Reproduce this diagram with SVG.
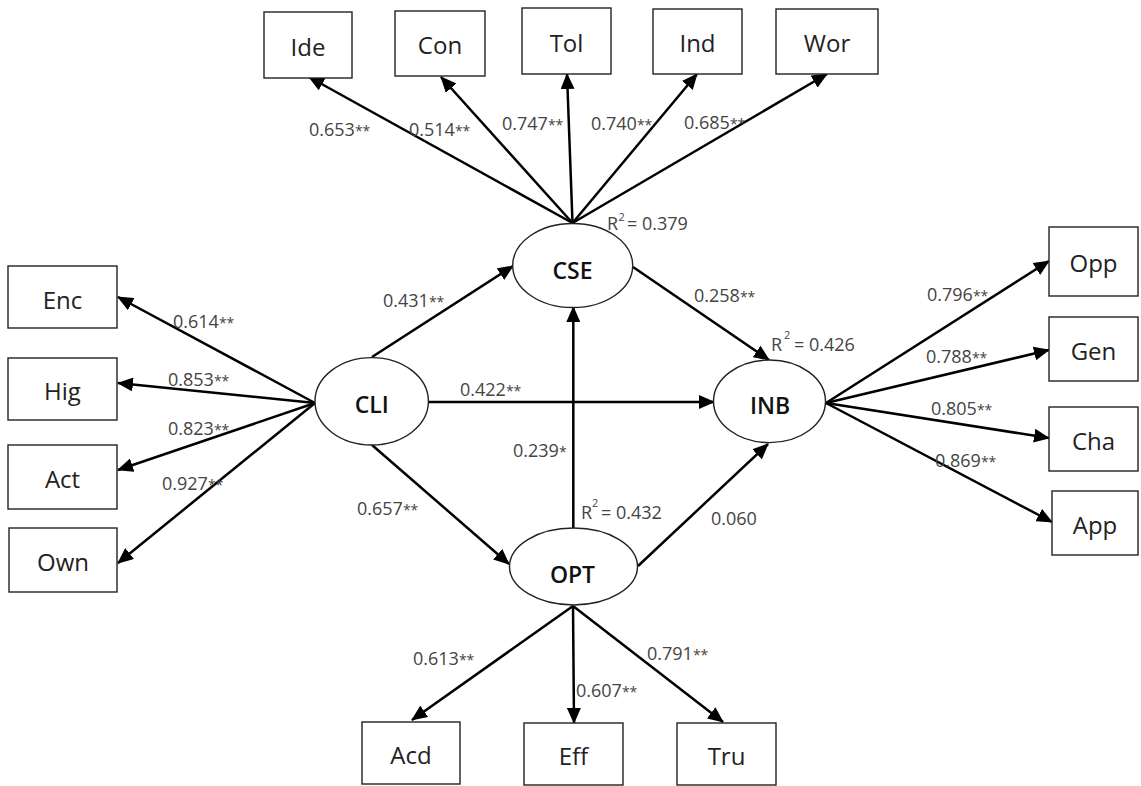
<svg xmlns="http://www.w3.org/2000/svg" width="1141" height="786" viewBox="0 0 1141 786">
  <style>
    .box { fill: #ffffff; stroke: #222222; stroke-width: 1.4; }
    .lat { fill: #ffffff; stroke: #222222; stroke-width: 1.4; }
    .bl { font-family: "Open Sans", "Liberation Sans", sans-serif; font-size: 24px; fill: #222222; text-anchor: middle; }
    .ll { font-family: "Open Sans", "Liberation Sans", sans-serif; font-size: 23px; font-weight: 600; fill: #111111; text-anchor: middle; }
    .num { font-family: "Open Sans", "Liberation Sans", sans-serif; font-size: 18px; fill: #444444; }
    .st { font-size: 14px; }
    .sup { font-size: 11px; }
    .path { stroke: #000000; stroke-width: 2.5; fill: none; marker-end: url(#head); }
  </style>
  <defs>
    <marker id="head" markerUnits="userSpaceOnUse" markerWidth="16" markerHeight="14" refX="15" refY="7" orient="auto">
      <path d="M0,0 L16,7 L0,14 z" fill="#000000"/>
    </marker>
  </defs>

  <rect width="1141" height="786" fill="#ffffff"/>

  <!-- paths and loadings -->
  <g id="connectors">
    <!-- CSE indicators -->
    <line class="path" x1="572.5" y1="223" x2="309" y2="77"/>
    <line class="path" x1="572.5" y1="223" x2="441" y2="77"/>
    <line class="path" x1="572.5" y1="223" x2="567" y2="74"/>
    <line class="path" x1="572.5" y1="223" x2="697" y2="74"/>
    <line class="path" x1="572.5" y1="223" x2="827" y2="74"/>
    <!-- CLI indicators -->
    <line class="path" x1="315" y1="403" x2="118" y2="297"/>
    <line class="path" x1="315" y1="403" x2="118" y2="383"/>
    <line class="path" x1="315" y1="403" x2="118" y2="470"/>
    <line class="path" x1="315" y1="403" x2="118" y2="563"/>
    <!-- structural paths -->
    <line class="path" x1="372" y1="357" x2="513" y2="266"/>
    <line class="path" x1="428" y1="402" x2="714" y2="402"/>
    <line class="path" x1="633" y1="267" x2="769" y2="360"/>
    <line class="path" x1="372" y1="445" x2="509" y2="564"/>
    <line class="path" x1="573.3" y1="528" x2="573.3" y2="307"/>
    <line class="path" x1="638" y1="566" x2="768" y2="444"/>
    <!-- INB indicators -->
    <line class="path" x1="826" y1="403" x2="1049" y2="261"/>
    <line class="path" x1="826" y1="403" x2="1049" y2="350"/>
    <line class="path" x1="826" y1="403" x2="1049" y2="438"/>
    <line class="path" x1="826" y1="403" x2="1052" y2="522"/>
    <!-- OPT indicators -->
    <line class="path" x1="573" y1="606" x2="412" y2="720"/>
    <line class="path" x1="573" y1="606" x2="574" y2="723"/>
    <line class="path" x1="573" y1="606" x2="723" y2="722"/>

    <!-- coefficients -->
    <g class="num">
      <text x="309" y="136">0.653<tspan class="st">**</tspan></text>
      <text x="409" y="136">0.514<tspan class="st">**</tspan></text>
      <text x="502" y="130">0.747<tspan class="st">**</tspan></text>
      <text x="591" y="130">0.740<tspan class="st">**</tspan></text>
      <text x="684" y="129">0.685<tspan class="st">**</tspan></text>

      <text x="173" y="328">0.614<tspan class="st">**</tspan></text>
      <text x="168" y="386">0.853<tspan class="st">**</tspan></text>
      <text x="168" y="435">0.823<tspan class="st">**</tspan></text>
      <text x="162" y="490">0.927<tspan class="st">**</tspan></text>

      <text x="383" y="307">0.431<tspan class="st">**</tspan></text>
      <text x="460" y="396">0.422<tspan class="st">**</tspan></text>
      <text x="694" y="302">0.258<tspan class="st">**</tspan></text>
      <text x="357" y="515">0.657<tspan class="st">**</tspan></text>
      <text x="513" y="457">0.239<tspan class="st">*</tspan></text>
      <text x="711" y="525">0.060</text>

      <text x="927" y="301">0.796<tspan class="st">**</tspan></text>
      <text x="926" y="363">0.788<tspan class="st">**</tspan></text>
      <text x="931" y="415">0.805<tspan class="st">**</tspan></text>
      <text x="935" y="467">0.869<tspan class="st">**</tspan></text>

      <text x="413" y="665">0.613<tspan class="st">**</tspan></text>
      <text x="576" y="697">0.607<tspan class="st">**</tspan></text>
      <text x="647" y="660">0.791<tspan class="st">**</tspan></text>

      <!-- explained variance -->
      <text x="607" y="230">R<tspan class="sup" x="618.5" dy="-9">2</tspan><tspan x="627" dy="9">= 0.379</tspan></text>
      <text x="771" y="351">R<tspan class="sup" x="784" dy="-12">2</tspan><tspan x="794" dy="12">= 0.426</tspan></text>
      <text x="581" y="519">R<tspan class="sup" x="592" dy="-12">2</tspan><tspan x="601" dy="12">= 0.432</tspan></text>
    </g>
  </g>

  <!-- latent constructs -->
  <g id="CSE"><ellipse class="lat" cx="572.7" cy="265.5" rx="60" ry="42"/><text class="ll" x="572.5" y="278.5">CSE</text></g>
  <g id="CLI"><ellipse class="lat" cx="371.7" cy="401.3" rx="56.7" ry="43.7"/><text class="ll" x="371.7" y="412.5">CLI</text></g>
  <g id="INB"><ellipse class="lat" cx="769.5" cy="401.3" rx="56" ry="41.3"/><text class="ll" x="770" y="414">INB</text></g>
  <g id="OPT"><ellipse class="lat" cx="573.5" cy="566.5" rx="64" ry="38.5"/><text class="ll" x="572.5" y="583">OPT</text></g>

  <!-- CSE indicators -->
  <g id="Ide"><rect class="box" x="264" y="12" width="88" height="66"/><text class="bl" x="308" y="56">Ide</text></g>
  <g id="Con"><rect class="box" x="395" y="11" width="90" height="65"/><text class="bl" x="440" y="54">Con</text></g>
  <g id="Tol"><rect class="box" x="522" y="8" width="89" height="66"/><text class="bl" x="566.5" y="52">Tol</text></g>
  <g id="Ind"><rect class="box" x="653" y="9" width="89" height="65"/><text class="bl" x="697.5" y="52">Ind</text></g>
  <g id="Wor"><rect class="box" x="776" y="9" width="102" height="65"/><text class="bl" x="827" y="52">Wor</text></g>

  <!-- CLI indicators -->
  <g id="Enc"><rect class="box" x="8" y="266" width="109" height="62"/><text class="bl" x="62.5" y="309">Enc</text></g>
  <g id="Hig"><rect class="box" x="8" y="358" width="109" height="62"/><text class="bl" x="62.5" y="400">Hig</text></g>
  <g id="Act"><rect class="box" x="8" y="445" width="109" height="64"/><text class="bl" x="62.5" y="488">Act</text></g>
  <g id="Own"><rect class="box" x="9" y="528" width="108" height="64"/><text class="bl" x="63" y="571">Own</text></g>

  <!-- INB indicators -->
  <g id="Opp"><rect class="box" x="1049" y="227" width="89" height="69"/><text class="bl" x="1093.5" y="272">Opp</text></g>
  <g id="Gen"><rect class="box" x="1049" y="317" width="89" height="64"/><text class="bl" x="1093.5" y="360">Gen</text></g>
  <g id="Cha"><rect class="box" x="1049" y="407" width="89" height="64"/><text class="bl" x="1093.5" y="450">Cha</text></g>
  <g id="App"><rect class="box" x="1052" y="491" width="86" height="64"/><text class="bl" x="1095" y="534">App</text></g>

  <!-- OPT indicators -->
  <g id="Acd"><rect class="box" x="362" y="722" width="98" height="62"/><text class="bl" x="411" y="764">Acd</text></g>
  <g id="Eff"><rect class="box" x="524" y="723" width="99" height="62"/><text class="bl" x="573.5" y="765">Eff</text></g>
  <g id="Tru"><rect class="box" x="677" y="723" width="99" height="62"/><text class="bl" x="726.5" y="765">Tru</text></g>
</svg>
